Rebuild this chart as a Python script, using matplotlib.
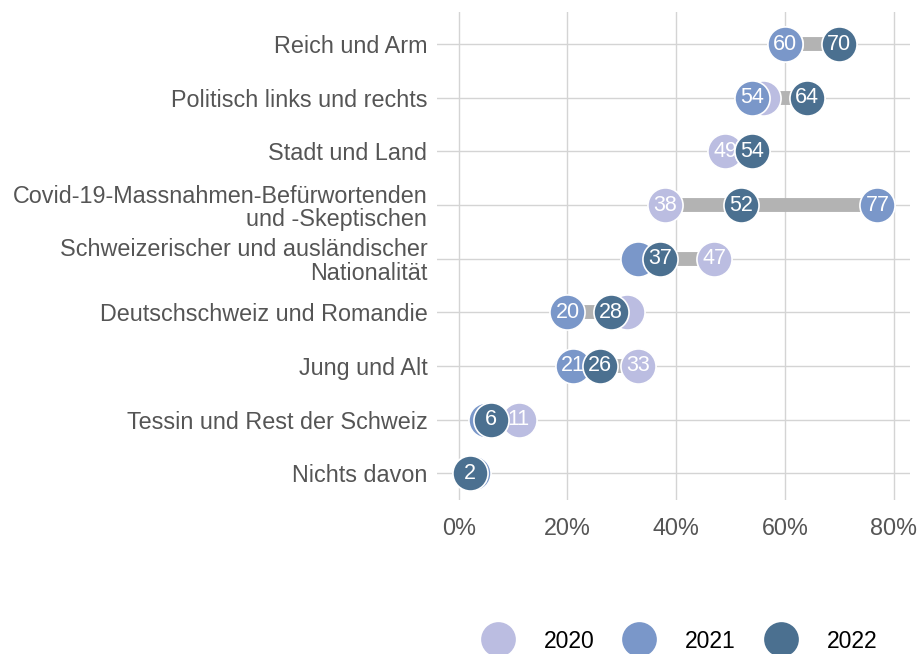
import numpy as np
import matplotlib.pyplot as plt
from matplotlib.lines import Line2D

plt.rcParams['font.family'] = ['Liberation Sans', 'DejaVu Sans']

# datos
categorias = ['Reich und Arm', 'Politisch links und rechts', 'Stadt und Land',
              'Covid-19-Massnahmen-Befürwortenden\nund -Skeptischen',
              'Schweizerischer und ausländischer\nNationalität',
              'Deutschschweiz und Romandie', 'Jung und Alt',
              'Tessin und Rest der Schweiz', 'Nichts davon']
v2020 = [60, 56, 49, 38, 47, 31, 33, 11, 2]
v2021 = [60, 54, 54, 77, 33, 20, 21, 5, 2.6]
v2022 = [70, 64, 54, 52, 37, 28, 26, 6, 2]
anios = ['2020', '2021', '2022']
colores = ['#bbbde1', '#7a97c9', '#4b7090']

fig = plt.figure(figsize=(9.18, 6.54), dpi=100)
ax = fig.add_axes([437/918, 1 - 500/654, (910-437)/918, (500-12)/654])

y = np.arange(len(categorias))
series = [v2020, v2021, v2022]
todos = np.array(series)

# barra gris entre minimo y maximo
ax.hlines(y, todos.min(axis=0), todos.max(axis=0), color='#b3b3b3', lw=10, zorder=2)

# circulos y etiquetas por año (la etiqueta se omite si un año posterior la tapa)
z = 3
for k, (vals, col) in enumerate(zip(series, colores)):
    for i, (yi, v) in enumerate(zip(y, vals)):
        ax.scatter(v, yi, s=640, color=col, edgecolor='white', linewidth=1.2, zorder=z)
        tapada = any(abs(series[j][i] - v) < 4.5 for j in range(k + 1, len(series)))
        if not tapada:
            ax.text(v, yi, str(int(round(v))), color='white', fontsize=15.5,
                    ha='center', va='center', zorder=z + 0.5)
        z += 1

ax.set_xlim(-4, 83)
ax.set_ylim(len(categorias) - 0.5, -0.6)
ax.set_xticks([0, 20, 40, 60, 80])
ax.set_xticklabels(['0%', '20%', '40%', '60%', '80%'])
ax.set_yticks(y)
ax.set_yticklabels(categorias)
ax.tick_params(axis='both', length=0, labelsize=16.8, colors='#555555')
ax.tick_params(axis='x', pad=12)
ax.tick_params(axis='y', pad=7)
for lab in ax.get_yticklabels():
    lab.set_linespacing(1.05)
ax.grid(True, color='#d4d4d4', lw=1)
ax.set_axisbelow(True)
for s in ax.spines.values():
    s.set_visible(False)

# leyenda
handles = [Line2D([], [], marker='o', ls='', markersize=25, color=c, markeredgewidth=0)
           for c in colores]
fig.legend(handles, anios, ncol=3, loc='center', bbox_to_anchor=(676/918, 1 - 641/654),
           frameon=False, fontsize=16.5, handletextpad=1.0, columnspacing=0.96,
           borderpad=0, borderaxespad=0)

plt.savefig('out.png', dpi=100)
